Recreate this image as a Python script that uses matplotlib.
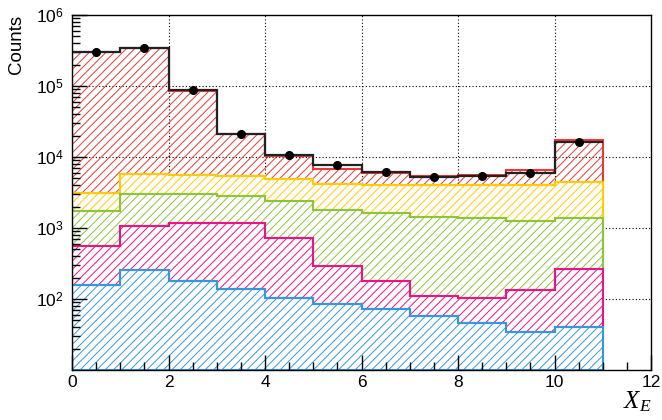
import numpy as np
import matplotlib
matplotlib.use("Agg")
import matplotlib.pyplot as plt
from matplotlib.ticker import FixedLocator, LogLocator, NullFormatter, MultipleLocator

plt.rcParams['font.family'] = ['Liberation Sans', 'DejaVu Sans']
plt.rcParams['mathtext.fontset'] = 'custom'
plt.rcParams['mathtext.rm'] = 'Liberation Sans'
plt.rcParams['mathtext.it'] = 'Liberation Serif:italic'
plt.rcParams['hatch.linewidth'] = 0.7

# bin edges of X_E
edges = np.arange(0, 12, 1)

# cumulative stack levels (bottom to top)
blue = np.array([157, 256, 181, 137, 103, 84, 72, 58, 46, 34, 41])
pink_cum = np.array([557, 1077, 1188, 1160, 729, 295, 181, 110, 102, 134, 262])
green_cum = np.array([1735, 3050, 3030, 2825, 2400, 1770, 1645, 1443, 1400, 1255, 1384])
yellow_cum = np.array([3080, 5700, 5650, 5400, 4850, 4120, 4100, 3990, 3990, 4000, 4400])
red_cum = np.array([300000, 340000, 86000, 21000, 10200, 6900, 5900, 5450, 5550, 6500, 17200])

# data
data = np.array([300000, 340000, 88000, 21300, 10800, 7800, 6150, 5200, 5500, 5950, 16500])

levels = [blue, pink_cum, green_cum, yellow_cum, red_cum]
colors = ['#3399dd', '#ee1188', '#8cc43c', '#ffcc00', '#e83a3a']
faces = ['white', 'white', 'white', 'white', 'none']

fig = plt.figure(figsize=(6.62, 4.2), dpi=100)
ax = fig.add_axes([0.1088, 0.119, 0.8746, 0.845])

ymin = 10
bases = [np.full(len(blue), ymin)] + levels[:-1]

# dotted grid underneath the histograms
for x in [2, 4, 6, 8, 10]:
    ax.axvline(x, linestyle=(0, (1, 2)), color='black', linewidth=0.8, zorder=0.5)
for y in [1e2, 1e3, 1e4, 1e5]:
    ax.axhline(y, linestyle=(0, (1, 2)), color='black', linewidth=0.8, zorder=0.5)

# hatched fills first
for lev, base, c, f in zip(levels, bases, colors, faces):
    ax.stairs(lev, edges, baseline=base, fill=True, facecolor=f,
              edgecolor=c, hatch='////', linewidth=0, zorder=1)
# outlines, top component first so lower ones stay visible on boundaries
for lev, base, c in reversed(list(zip(levels, bases, colors))):
    ax.stairs(lev, edges, baseline=base, color=c, linewidth=1.5, zorder=1.5)

ax.stairs(data, edges, baseline=None, color='#222222', linewidth=1.6, zorder=2.5)
centers = 0.5 * (edges[:-1] + edges[1:])
ax.plot(centers, data, 'o', color='black', markersize=5.5, zorder=3)

ax.set_yscale('log')
ax.set_xlim(0, 12)
ax.set_ylim(ymin, 1e6)

ax.xaxis.set_major_locator(MultipleLocator(2))
ax.xaxis.set_minor_locator(MultipleLocator(0.5))
ax.yaxis.set_major_locator(FixedLocator([1e2, 1e3, 1e4, 1e5, 1e6]))
ax.yaxis.set_minor_locator(LogLocator(base=10, subs=np.arange(2, 10)))
ax.yaxis.set_minor_formatter(NullFormatter())
ax.set_yticklabels([r'$10^{%d}$' % i for i in range(2, 7)])

ax.tick_params(which='both', direction='in', top=False, right=False, labelsize=12.5)
ax.tick_params(which='major', length=11, width=1)
ax.tick_params(which='minor', length=6, width=1)
ax.tick_params(axis='y', which='major', pad=6)

for s in ax.spines.values():
    s.set_linewidth(1.0)

ax.set_xlabel(r'$X_E$', loc='right', fontsize=18, labelpad=0)
ax.set_ylabel('Counts', loc='top', fontsize=13.5, labelpad=8)

fig.savefig('out.png', dpi=100)
